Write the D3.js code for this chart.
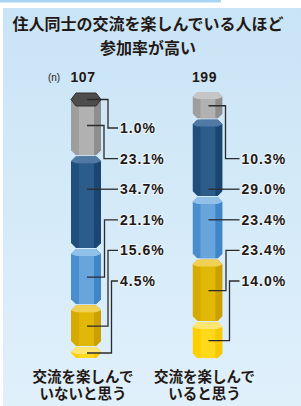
<!DOCTYPE html>
<html><head><meta charset="utf-8">
<script src="https://cdn.jsdelivr.net/npm/d3@7"></script>
<style>
html,body{margin:0;padding:0;background:#fff;}
svg{display:block;}
</style></head>
<body>
<svg id="chart" width="301" height="406"></svg>
<script>
// ---- data ----
const titleLines = ["住人同士の交流を楽しんでいる人ほど", "参加率が高い"];
const groups = ["交流を楽しんでいないと思う", "交流を楽しんでいると思う"];
const groupLabelLines = [["交流を楽しんで", "いないと思う"], ["交流を楽しんで", "いると思う"]];
const nValues = [107, 199];
// stacked tiers, top to bottom (null = not present)
const tier1 = [1.0, null];
const tier2 = [23.1, 10.3];
const tier3 = [34.7, 29.0];
const tier4 = [21.1, 23.4];
const tier5 = [15.6, 23.4];
const tier6 = [4.5, 14.0];
const tiers = [tier1, tier2, tier3, tier4, tier5, tier6];

// ---- styles ----
const tierColors = [
  {main:"#4d4d4d", light:"#5a5a5a", dark:"#3e3e3e", top:"#666666"},
  {main:"#9e9e9e", light:"#b1b1b1", dark:"#8e8e8e", top:"#c6c6c6"},
  {main:"#214f7b", light:"#2c5d8a", dark:"#1b4671", top:"#5079a3"},
  {main:"#4a8ecf", light:"#68a5dc", dark:"#3f86c9", top:"#91c0e9"},
  {main:"#d6aa00", light:"#e2b808", dark:"#cba000", top:"#f1d154"},
  {main:"#fdcf00", light:"#ffd91a", dark:"#f5c800", top:"#ffe672"}
];
const textColor = "#231815";
const numFont = "'Liberation Sans', Arial, sans-serif";
const jpFont = "'Noto Sans CJK JP', 'Noto Sans', sans-serif";
const catFont = "'Liberation Sans', 'Noto Sans CJK JP', sans-serif";

const svg = d3.select("#chart");
const defs = svg.append("defs");
const grad = defs.append("linearGradient").attr("id","bg").attr("x1",0).attr("y1",0).attr("x2",0).attr("y2",1);
grad.append("stop").attr("offset","0%").attr("stop-color","#c9e4f6");
grad.append("stop").attr("offset","100%").attr("stop-color","#e0f0fb");

// top strip and panel
svg.append("rect").attr("x",0).attr("y",0).attr("width",221).attr("height",2.5).attr("fill","#a8d5f4");
svg.append("rect").attr("x",3).attr("y",8).attr("width",298).attr("height",398).attr("fill","url(#bg)");

// title
const title = svg.append("text").attr("text-anchor","middle")
  .attr("font-family",jpFont).attr("font-weight","bold").attr("font-size",16).attr("fill",textColor);
titleLines.forEach((t,i)=>{
  title.append("tspan").attr("x",148).attr("y",30+i*24).text(t);
});

// scales
const x = d3.scalePoint().domain(groups).range([86, 207.5]);
const y = d3.scaleLinear().domain([0, 100]).range([92, 359]);
const barW = 30;
const chamf = 5;
const labelSlotY = d3.scaleLinear().domain([0, 5]).range([128, 281]);

// (n) marker
svg.append("text").attr("x",54).attr("y",81).attr("text-anchor","middle")
  .attr("font-family",numFont).attr("font-size",10).attr("fill",textColor).text("(n)");

groups.forEach((g, gi) => {
  const cx = x(g);
  const x0 = cx - barW/2, x1 = cx + barW/2;
  let cum = 0;
  const segs = [];
  tiers.forEach((arr, ti) => {
    const v = arr[gi];
    if (v == null) return;
    segs.push({ti, v, y0: y(cum), y1: y(cum + v)});
    cum += v;
  });

  const gBar = svg.append("g");
  segs.slice().reverse().forEach((s) => {
    const col = tierColors[s.ti];
    if (s.ti === 0) return; // cap drawn later
    const yy0 = s.y0, yy1 = s.y1 - 1;
    const pts = [[x0,yy0+chamf],[x0+chamf,yy0],[x1-chamf,yy0],[x1,yy0+chamf],[x1,yy1-chamf],[x1-chamf,yy1],[x0+chamf,yy1],[x0,yy1-chamf]];
    const id = `clip-${gi}-${s.ti}`;
    defs.append("clipPath").attr("id", id).append("polygon").attr("points", pts.map(p=>p.join(",")).join(" "));
    const sg = gBar.append("g").attr("clip-path", `url(#${id})`);
    sg.append("rect").attr("x",x0).attr("y",yy0).attr("width",barW).attr("height",yy1-yy0).attr("fill",col.main);
    sg.append("rect").attr("x",x0+8).attr("y",yy0).attr("width",barW-15).attr("height",yy1-yy0).attr("fill",col.light);
    sg.append("rect").attr("x",x1-7).attr("y",yy0).attr("width",7).attr("height",yy1-yy0).attr("fill",col.dark);
    sg.append("polygon").attr("points", [[x0,yy0],[x1,yy0],[x1,yy0+chamf],[x1-chamf,yy0+chamf+2],[x0+chamf,yy0+chamf+2],[x0,yy0+chamf]].map(p=>p.join(",")).join(" "))
      .attr("fill", col.top);
  });
  segs.filter(s => s.ti === 0).forEach(s => {
    const col = tierColors[0];
    const h = Math.max(s.y1 - s.y0, 13);
    const yt = s.y0 + 1, ym = yt + h/2, yb = yt + h;
    gBar.append("polygon")
      .attr("points", [[x0,ym],[x0+5,yt],[x1-5,yt],[x1,ym],[x1-5,yb],[x0+5,yb]].map(p=>p.join(",")).join(" "))
      .attr("fill", col.main).attr("stroke","#2e2e2e").attr("stroke-width",1);
    s.anchor = ym;
  });

  const n = segs.length;
  const labelX = x1 + 17;
  const lines = svg.append("g").attr("fill","none").attr("stroke","#2b2b2b").attr("stroke-width",1.3);
  const items = segs.map((s, i) => {
    const ly = labelSlotY(6 - n + i);
    const mid = s.anchor != null ? s.anchor : (s.y0 + s.y1)/2;
    const straight = s.ti !== 0 && ly > s.y0 + 6 && ly < s.y1 - 6;
    return {s, ly, mid, straight};
  });
  const above = items.filter(d => !d.straight && d.mid < d.ly);
  const below = items.filter(d => !d.straight && d.mid >= d.ly);
  above.sort((a,b)=>b.mid-a.mid).forEach((d,k)=> d.ex = x1 + 3 + k*4);
  below.sort((a,b)=>a.mid-b.mid).forEach((d,k)=> d.ex = x1 + 3.5 + k*3.5);
  items.forEach(d => {
    const sx = cx + 1;
    const path = d.straight ? `M${sx},${d.ly}H${labelX}` : `M${sx},${d.mid}H${d.ex}V${d.ly}H${labelX}`;
    lines.append("path").attr("d", path);
    svg.append("text").attr("x", labelX + 2).attr("y", d.ly + 5)
      .attr("font-family", numFont).attr("font-weight","bold").attr("font-size",14)
      .attr("letter-spacing", 1).attr("fill", textColor)
      .attr("stroke","#ffffff").attr("stroke-width",2).attr("stroke-opacity",0.6).attr("paint-order","stroke")
      .text(d3.format(".1f")(d.s.v) + "%");
  });

  svg.append("text").attr("x", cx - 3).attr("y", 82).attr("text-anchor","middle")
    .attr("font-family", numFont).attr("font-weight","bold").attr("font-size",14)
    .attr("letter-spacing",0.5).attr("fill",textColor).text(nValues[gi]);

  const cat = svg.append("text").attr("text-anchor","middle")
    .attr("font-family", catFont).attr("font-weight","bold").attr("font-size",14.5)
    .attr("fill", textColor);
  groupLabelLines[gi].forEach((t, li) => {
    cat.append("tspan").attr("x", cx - 3).attr("y", 382 + li*16.5).text(t);
  });
});
</script>
</body></html>
